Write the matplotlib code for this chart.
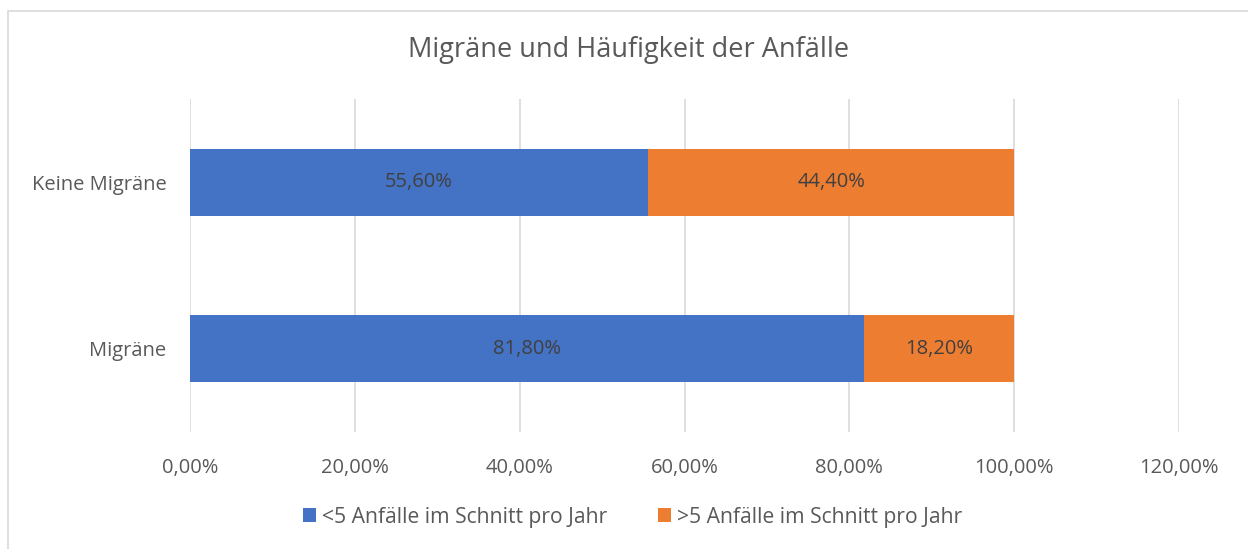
import matplotlib

matplotlib.use("Agg")
import matplotlib.pyplot as plt  # noqa: E402
from matplotlib.patches import Rectangle  # noqa: E402

BLEU = "#4472C4"
ORANGE = "#ED7D31"
GRIS = "#595959"
GRILLE = "#D9D9D9"

categories = ["Migräne", "Keine Migräne"]
weniger_5 = [0.818, 0.556]
mehr_5 = [0.182, 0.444]
labels_weniger = ["81,80%", "55,60%"]
labels_mehr = ["18,20%", "44,40%"]
ticks = [0, 0.2, 0.4, 0.6, 0.8, 1.0, 1.2]
tick_labels = ["0,00%", "20,00%", "40,00%", "60,00%", "80,00%", "100,00%", "120,00%"]
serien = ["<5 Anfälle im Schnitt pro Jahr", ">5 Anfälle im Schnitt pro Jahr"]

plt.rcParams["font.family"] = ["Open Sans", "DejaVu Sans"]

W, H = 1248, 549
fig = plt.figure(figsize=(W / 100, H / 100), dpi=100)
fig.patch.set_facecolor("white")

# cadre du graphique (façon Excel)
fig.patches.append(Rectangle((8 / W, -0.1), 1.2, 1 - 11 / H + 0.1,
                             transform=fig.transFigure, fill=False,
                             edgecolor=GRILLE, linewidth=1.2))

ax = fig.add_axes([190 / W, 1 - 432 / H, (1179 - 190) / W, (432 - 99) / H])
y = range(len(categories))
b1 = ax.barh(y, weniger_5, height=0.4, color=BLEU, label=serien[0])
b2 = ax.barh(y, mehr_5, left=weniger_5, height=0.4, color=ORANGE, label=serien[1])

for barres, textes in ((b1, labels_weniger), (b2, labels_mehr)):
    for b, t in zip(barres, textes):
        ax.text(b.get_x() + b.get_width() / 2, b.get_y() + b.get_height() / 2, t,
                ha="center", va="center", color="#404040", fontsize=14.5)

ax.set_xlim(0, 1.2)
ax.set_ylim(-0.5, 1.5)
ax.set_xticks(ticks, tick_labels)
ax.set_yticks(list(y), categories)
ax.tick_params(length=0, colors=GRIS, labelsize=14.5)
ax.tick_params(axis="x", pad=19)
ax.tick_params(axis="y", pad=17)
ax.grid(axis="x", color=GRILLE, linewidth=1.2)
ax.set_axisbelow(True)
for s in ax.spines.values():
    s.set_visible(False)

fig.text(629 / W, 1 - 50 / H, "Migräne und Häufigkeit der Anfälle",
         ha="center", va="center", color=GRIS, fontsize=19.5)

fig.legend(loc="center", bbox_to_anchor=(633 / W, 1 - 517 / H), ncol=2,
           frameon=False, fontsize=15.2, labelcolor=GRIS, handlelength=0.6,
           handleheight=0.6, handletextpad=0.3, columnspacing=2.4)

fig.savefig("out.png", dpi=100, facecolor="white")
